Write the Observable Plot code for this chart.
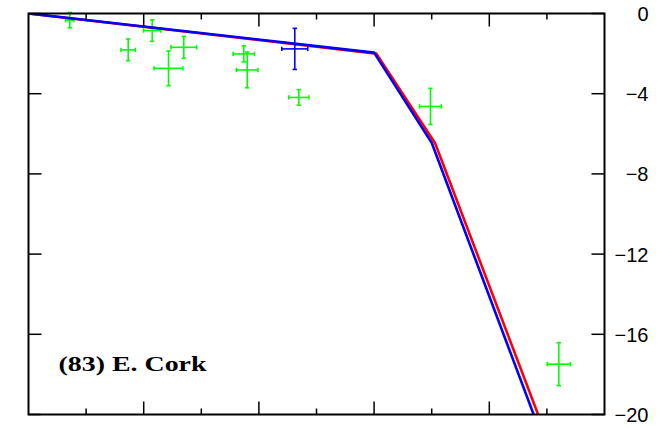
<!DOCTYPE html>
<html>
<head>
<meta charset="utf-8">
<script src="https://cdn.jsdelivr.net/npm/d3@7"></script>
<script src="https://cdn.jsdelivr.net/npm/@observablehq/plot@0.6"></script>
<style>
  html, body { margin: 0; padding: 0; background: #fff; }
  #chart svg { display: block; background: #fff; }
</style>
</head>
<body>
<div id="chart"></div>
<script>
// ---- data ----
const xTicksMajor = [2, 4, 6, 8];
const xTicksMinor = [1, 3, 5, 7, 9];
const yTicks = [0, -4, -8, -12, -16, -20];
const yTickLabels = ["0", "\u22124", "\u22128", "\u221212", "\u221216", "\u221220"];

const blueLineX = [0, 6, 7, 9];
const blueLineY = [0, -1.95, -6.45, -21.76];
const redLineX = [0, 6.04, 7.06, 9.08];
const redLineY = [0, -2.0, -6.47, -21.76];

const greenX = [0.717, 1.731, 2.148, 2.431, 2.696, 3.738, 3.797, 4.693, 6.979, 9.207];
const greenY = [-0.33, -1.815, -0.85, -2.735, -1.685, -2.015, -2.815, -4.185, -4.635, -17.49];
const greenXErr = [0.073, 0.124, 0.15, 0.25, 0.223, 0.185, 0.187, 0.176, 0.19, 0.2];
const greenYErr = [0.38, 0.54, 0.535, 0.865, 0.54, 0.4, 0.89, 0.39, 0.9, 1.07];

const blueX = [4.623];
const blueY = [-1.765];
const blueXErr = [0.225];
const blueYErr = [1.025];

const labelText = "(83) E. Cork";

// ---- tables ----
const blueLine = blueLineX.map((x, i) => ({x, y: blueLineY[i]}));
const redLine = redLineX.map((x, i) => ({x, y: redLineY[i]}));
const greenPts = greenX.map((x, i) => ({x, y: greenY[i], xe: greenXErr[i], ye: greenYErr[i]}));
const bluePts = blueX.map((x, i) => ({x, y: blueY[i], xe: blueXErr[i], ye: blueYErr[i]}));

// ---- custom symbols (caps and inward ticks) ----
const len = (size) => Math.sqrt(size / Math.PI);
const hCap = {draw(ctx, size) { const r = len(size); ctx.moveTo(-r, 0); ctx.lineTo(r, 0); }};
const vCap = {draw(ctx, size) { const r = len(size); ctx.moveTo(0, -r); ctx.lineTo(0, r); }};
const tickDown = {draw(ctx, size) { const r = len(size); ctx.moveTo(0, 0); ctx.lineTo(0, r); }};
const tickUp = {draw(ctx, size) { const r = len(size); ctx.moveTo(0, 0); ctx.lineTo(0, -r); }};
const tickRight = {draw(ctx, size) { const r = len(size); ctx.moveTo(0, 0); ctx.lineTo(r, 0); }};
const tickLeft = {draw(ctx, size) { const r = len(size); ctx.moveTo(0, 0); ctx.lineTo(-r, 0); }};

function errorBars(data, color) {
  return [
    Plot.ruleY(data, {y: "y", x1: d => d.x - d.xe, x2: d => d.x + d.xe, stroke: color, strokeWidth: 1.6}),
    Plot.ruleX(data, {x: "x", y1: d => d.y - d.ye, y2: d => d.y + d.ye, stroke: color, strokeWidth: 1.6}),
    Plot.dot(data, {x: d => d.x - d.xe, y: "y", symbol: vCap, r: 2.2, fill: "none", stroke: color, strokeWidth: 1.6}),
    Plot.dot(data, {x: d => d.x + d.xe, y: "y", symbol: vCap, r: 2.2, fill: "none", stroke: color, strokeWidth: 1.6}),
    Plot.dot(data, {x: "x", y: d => d.y - d.ye, symbol: hCap, r: 2.2, fill: "none", stroke: color, strokeWidth: 1.6}),
    Plot.dot(data, {x: "x", y: d => d.y + d.ye, symbol: hCap, r: 2.2, fill: "none", stroke: color, strokeWidth: 1.6})
  ];
}

const svg = Plot.plot({
  width: 671,
  height: 428,
  marginLeft: 28,
  marginRight: 67,
  marginTop: 13,
  marginBottom: 14,
  x: {domain: [0, 10], axis: null},
  y: {domain: [-20, 0], axis: null},
  style: {background: "#fff"},
  marks: [
    ...errorBars(greenPts, "#00ff00"),
    Plot.line(redLine, {x: "x", y: "y", stroke: "#ff0000", strokeWidth: 2.6, clip: true}),
    Plot.line(blueLine, {x: "x", y: "y", stroke: "#0000ff", strokeWidth: 2.6, clip: true}),
    ...errorBars(bluePts, "#0000ff"),
    // inward ticks
    Plot.dot(xTicksMajor, {x: d => d, frameAnchor: "top", symbol: tickDown, r: 13, fill: "none", stroke: "black", strokeWidth: 1.5}),
    Plot.dot(xTicksMinor, {x: d => d, frameAnchor: "top", symbol: tickDown, r: 6, fill: "none", stroke: "black", strokeWidth: 1.5}),
    Plot.dot(xTicksMajor, {x: d => d, frameAnchor: "bottom", symbol: tickUp, r: 13, fill: "none", stroke: "black", strokeWidth: 1.5}),
    Plot.dot(xTicksMinor, {x: d => d, frameAnchor: "bottom", symbol: tickUp, r: 6, fill: "none", stroke: "black", strokeWidth: 1.5}),
    Plot.dot(yTicks, {y: d => d, frameAnchor: "left", symbol: tickRight, r: 13, fill: "none", stroke: "black", strokeWidth: 1.5}),
    Plot.dot(yTicks, {y: d => d, frameAnchor: "right", symbol: tickLeft, r: 13, fill: "none", stroke: "black", strokeWidth: 1.5}),
    Plot.frame({stroke: "black", strokeWidth: 2}),
    // right tick labels
    Plot.text(yTicks, {y: d => d, text: (d, i) => yTickLabels[i], frameAnchor: "right", dx: 44, dy: 1, textAnchor: "end",
      fontSize: 20, fontFamily: "Liberation Sans, Arial, Helvetica, sans-serif", fill: "black"}),
    // panel label
    Plot.text([labelText], {text: d => d, frameAnchor: "bottom-left", dx: 30, dy: -44, textAnchor: "start",
      fontSize: 21, fontWeight: "bold", fontFamily: "Liberation Serif, Times New Roman, serif", fill: "black"})
  ]
});

d3.select(svg).selectAll("text")
  .filter(function () { return this.textContent === labelText; })
  .attr("textLength", 148)
  .attr("lengthAdjust", "spacingAndGlyphs");

document.getElementById("chart").appendChild(svg);
</script>
</body>
</html>
